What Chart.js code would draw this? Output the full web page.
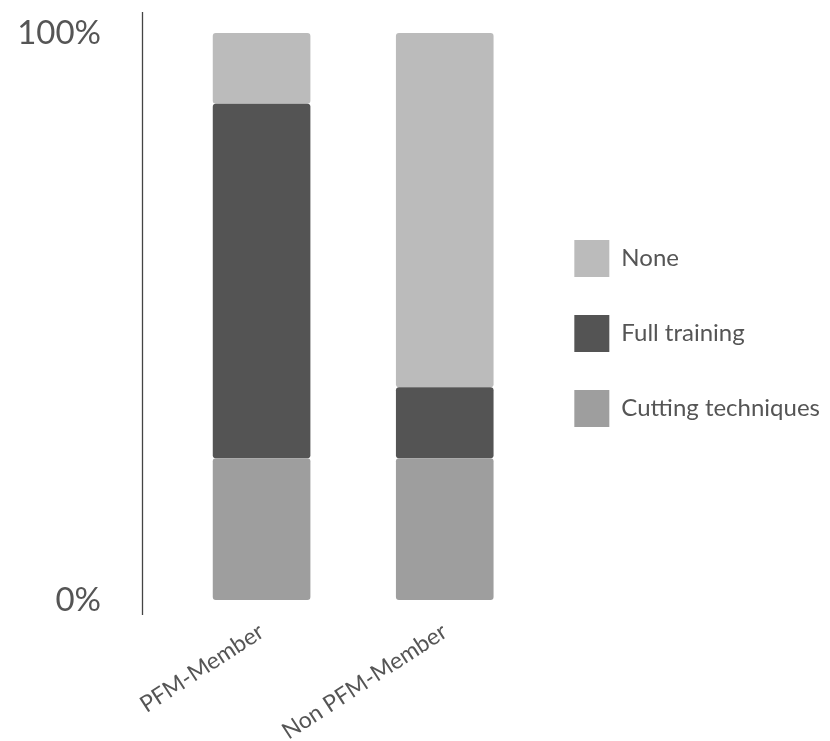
<!DOCTYPE html>
<html>
<head>
<meta charset="utf-8">
<script src="https://cdn.jsdelivr.net/npm/chart.js@4.4.0/dist/chart.umd.min.js"></script>
<style>
  html, body { margin: 0; padding: 0; background: #fff; }
  #wrap { width: 830px; height: 741px; }
</style>
</head>
<body>
<div id="wrap"><canvas id="trainingChart" width="830" height="741"></canvas></div>
<script>
// Share of respondents (%) per group, stacked bottom to top
const groups = ['PFM-Member', 'Non PFM-Member'];
const cuttingShare = [25, 25];
const fullShare = [62.5, 12.5];
const noneShare = [12.5, 62.5];
const yTicks = [0, 100];

const textColor = '#555555';
const fontFamily = 'Lato, "Noto Sans", sans-serif';

// vertical rule a little left of the plot area
const axisLine = {
  id: 'axisLine',
  afterDraw(chart) {
    const { ctx, chartArea } = chart;
    const x = Math.round(chartArea.left - 28) + 0.5;
    ctx.save();
    ctx.strokeStyle = '#444444';
    ctx.lineWidth = 1.3;
    ctx.beginPath();
    ctx.moveTo(x, chartArea.top);
    ctx.lineTo(x, chartArea.bottom);
    ctx.stroke();
    ctx.restore();
  }
};

// object form so every stacked segment gets its own rounded corners
const barStyle = {
  borderRadius: { topLeft: 3, topRight: 3, bottomLeft: 3, bottomRight: 3 },
  borderSkipped: false,
  barPercentage: 0.533,
  categoryPercentage: 1
};

new Chart(document.getElementById('trainingChart'), {
  type: 'bar',
  data: {
    labels: groups,
    datasets: [
      { label: 'Cutting techniques', data: cuttingShare, backgroundColor: '#9e9e9e', ...barStyle },
      { label: 'Full training', data: fullShare, backgroundColor: '#545454', ...barStyle },
      { label: 'None', data: noneShare, backgroundColor: '#bbbbbb', ...barStyle }
    ]
  },
  options: {
    responsive: false,
    animation: false,
    layout: { padding: { top: 12, bottom: 0, left: 0, right: 0 } },
    plugins: {
      tooltip: { enabled: false },
      legend: {
        position: 'right',
        align: 'center',
        fullSize: false,
        reverse: true,
        maxWidth: 400,
        // empty title only used as top spacing for the legend column
        title: { display: true, text: '', font: { size: 10, lineHeight: 1 }, padding: { top: 30, bottom: 0 } },
        labels: {
          boxWidth: 35,
          boxHeight: 37,
          padding: 38,
          color: textColor,
          font: { family: fontFamily, size: 24 }
        }
      }
    },
    scales: {
      x: {
        stacked: true,
        grid: { display: false },
        border: { display: false },
        ticks: {
          color: textColor,
          font: { family: fontFamily, size: 23 },
          minRotation: 33,
          maxRotation: 33,
          padding: -5
        },
        afterFit(scale) {
          scale.height = 126;
          scale.paddingLeft = 0;
          scale.paddingRight = 0;
        }
      },
      y: {
        stacked: true,
        min: -2.65,
        max: 103.7,
        grid: { display: false, drawTicks: false },
        border: { display: false },
        ticks: {
          color: textColor,
          font: { family: fontFamily, size: 33 },
          padding: 69,
          callback: v => v + '%'
        },
        afterBuildTicks(scale) { scale.ticks = yTicks.map(v => ({ value: v })); },
        afterFit(scale) {
          scale.width = 170;
          scale.paddingTop = 0;
          scale.paddingBottom = 0;
        }
      }
    }
  },
  plugins: [axisLine]
});
</script>
</body>
</html>
